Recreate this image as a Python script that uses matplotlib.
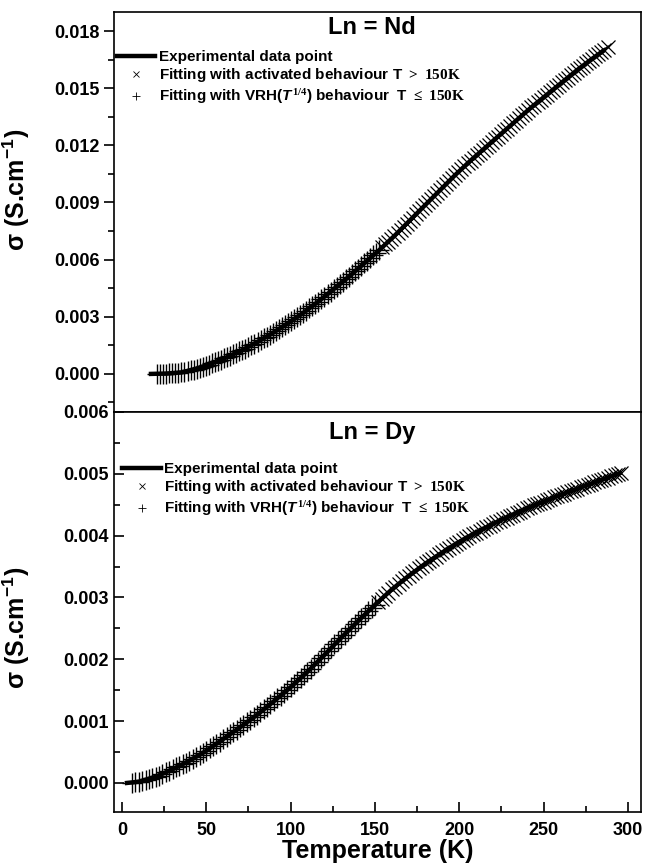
import numpy as np
import matplotlib
matplotlib.use("Agg")
import matplotlib.pyplot as plt
from matplotlib.lines import Line2D
from matplotlib.ticker import MultipleLocator, FormatStrFormatter

plt.rcParams['font.family'] = ['Liberation Sans', 'DejaVu Sans']
plt.rcParams['font.weight'] = 'bold'
plt.rcParams['mathtext.fontset'] = 'custom'
plt.rcParams['mathtext.rm'] = 'Liberation Serif'
plt.rcParams['mathtext.it'] = 'Liberation Sans:italic:bold'
plt.rcParams['mathtext.bf'] = 'Liberation Sans:bold'
plt.rcParams['axes.linewidth'] = 1.2

# ---- Ln = Nd (top panel, own temperature scale), sigma in mS/cm ----
nd_T_exp = [0, 10, 20, 30, 40, 50, 60, 70, 80, 90, 100, 110, 120, 130, 140, 150,
            160, 170, 180, 190, 200, 210, 220, 230, 240, 250, 260, 270, 280, 290, 297]
nd_sig_exp = [0.00, 0.02, 0.08, 0.28, 0.55, 0.88, 1.25, 1.68, 2.15, 2.65, 3.20, 3.80,
              4.45, 5.10, 5.80, 6.50, 7.25, 8.05, 8.85, 9.65, 10.45, 11.20, 11.90,
              12.60, 13.30, 14.00, 14.65, 15.30, 15.95, 16.55, 16.95]
# VRH fit, T = 4..150 K every 2 K
nd_sig_vrh = [0.00, 0.01, 0.01, 0.02,
              0.03, 0.04, 0.05, 0.06, 0.08,
              0.11, 0.15, 0.19, 0.23, 0.28,
              0.33, 0.38, 0.44, 0.49, 0.55,
              0.61, 0.68, 0.74, 0.81, 0.88,
              0.95, 1.03, 1.10, 1.18, 1.25,
              1.33, 1.42, 1.50, 1.59, 1.68,
              1.77, 1.87, 1.96, 2.06, 2.15,
              2.25, 2.35, 2.45, 2.55, 2.65,
              2.76, 2.87, 2.98, 3.09, 3.20,
              3.32, 3.44, 3.56, 3.68, 3.80,
              3.93, 4.06, 4.19, 4.32, 4.45,
              4.58, 4.71, 4.84, 4.97, 5.10,
              5.24, 5.38, 5.52, 5.66, 5.80,
              5.94, 6.08, 6.22, 6.36, 6.50]
# activated fit, T = 152..300 K every 2 K
nd_sig_act = [6.65, 6.80, 6.95, 7.10, 7.25,
              7.41, 7.57, 7.73, 7.89, 8.05,
              8.21, 8.37, 8.53, 8.69, 8.85,
              9.01, 9.17, 9.33, 9.49, 9.65,
              9.81, 9.97, 10.13, 10.29, 10.45,
              10.60, 10.75, 10.90, 11.05, 11.20,
              11.34, 11.48, 11.62, 11.76, 11.90,
              12.04, 12.18, 12.32, 12.46, 12.60,
              12.74, 12.88, 13.02, 13.16, 13.30,
              13.44, 13.58, 13.72, 13.86, 14.00,
              14.13, 14.26, 14.39, 14.52, 14.65,
              14.78, 14.91, 15.04, 15.17, 15.30,
              15.43, 15.56, 15.69, 15.82, 15.95,
              16.07, 16.19, 16.31, 16.43, 16.55,
              16.67, 16.79, 16.91, 17.03, 17.15]

# ---- Ln = Dy (bottom panel), sigma in mS/cm ----
dy_T_exp = [3, 10, 20, 30, 40, 50, 60, 70, 80, 90, 100, 110, 120, 130, 140, 150,
            160, 170, 180, 190, 200, 210, 220, 230, 240, 250, 260, 270, 280, 290, 295]
dy_sig_exp = [0.00, 0.02, 0.10, 0.22, 0.36, 0.52, 0.71, 0.90, 1.10, 1.32, 1.55, 1.80,
              2.07, 2.35, 2.62, 2.88, 3.13, 3.35, 3.55, 3.73, 3.90, 4.05, 4.19,
              4.32, 4.44, 4.55, 4.66, 4.76, 4.86, 4.96, 5.01]
# VRH fit, T = 6..150 K every 2 K
dy_sig_vrh = [0.00, 0.01, 0.02,
              0.03, 0.05, 0.06, 0.08, 0.10,
              0.12, 0.15, 0.17, 0.20, 0.22,
              0.25, 0.28, 0.30, 0.33, 0.36,
              0.39, 0.42, 0.45, 0.49, 0.52,
              0.56, 0.60, 0.63, 0.67, 0.71,
              0.75, 0.79, 0.82, 0.86, 0.90,
              0.94, 0.98, 1.02, 1.06, 1.10,
              1.14, 1.19, 1.23, 1.28, 1.32,
              1.37, 1.41, 1.46, 1.50, 1.55,
              1.60, 1.65, 1.70, 1.75, 1.80,
              1.85, 1.91, 1.96, 2.02, 2.07,
              2.13, 2.18, 2.24, 2.29, 2.35,
              2.40, 2.46, 2.51, 2.57, 2.62,
              2.67, 2.72, 2.78, 2.83, 2.88]
# activated fit, T = 152..296 K every 2 K
dy_sig_act = [2.93, 2.98, 3.03, 3.08, 3.13,
              3.17, 3.22, 3.26, 3.31, 3.35,
              3.39, 3.43, 3.47, 3.51, 3.55,
              3.59, 3.62, 3.66, 3.70, 3.73,
              3.77, 3.80, 3.83, 3.87, 3.90,
              3.93, 3.96, 3.99, 4.02, 4.05,
              4.08, 4.11, 4.14, 4.16, 4.19,
              4.22, 4.24, 4.27, 4.29, 4.32,
              4.34, 4.37, 4.39, 4.42, 4.44,
              4.46, 4.49, 4.51, 4.53, 4.55,
              4.58, 4.60, 4.62, 4.64, 4.66,
              4.68, 4.70, 4.72, 4.74, 4.76,
              4.78, 4.80, 4.82, 4.84, 4.86,
              4.88, 4.90, 4.92, 4.94, 4.96,
              4.98, 5.00, 5.02]

labels = ["Experimental data point",
          r"Fitting with activated behaviour T $\mathrm{{>}\ 150K}$",
          r"Fitting with VRH($T^{1/4}$) behaviour  T $\mathrm{{\leq}\ 150K}$"]


def ms(v):
    return np.asarray(v) * 1e-3


fig = plt.figure(figsize=(6.45, 8.65), dpi=100)
ax1 = fig.add_axes([114/645, 1-412/865, 527/645, 400/865])
ax2 = fig.add_axes([114/645, 1-812/865, 527/645, 400/865])

panels = [
    (ax1, "Ln = Nd", nd_T_exp, nd_sig_exp, 4, nd_sig_vrh, 152, nd_sig_act),
    (ax2, "Ln = Dy", dy_T_exp, dy_sig_exp, 6, dy_sig_vrh, 152, dy_sig_act),
]
for ax, name, T_exp, s_exp, t0v, s_vrh, t0a, s_act in panels:
    T_vrh = t0v + 2*np.arange(len(s_vrh))
    T_act = t0a + 2*np.arange(len(s_act))
    ax.plot(T_act, ms(s_act), ls='none', marker='x', ms=10, mew=0.9, color='k', zorder=2)
    ax.plot(T_vrh, ms(s_vrh), ls='none', marker='+', ms=14, mew=1.0, color='k', zorder=2)
    ax.plot(T_exp, ms(s_exp), color='k', lw=3.2, zorder=3)
    ax.text(0.49, 0.96 if ax is ax1 else 0.95, name, transform=ax.transAxes,
            ha='center', va='center', fontsize=17, fontweight='bold')
    ax.yaxis.set_major_formatter(FormatStrFormatter('%.3f'))
    ax.tick_params(labelsize=13)
    ax.set_ylabel(r"σ (S.cm$^{\mathbf{-1}}$)", fontsize=18, fontweight='bold')
    handles = [Line2D([], [], color='k', lw=3.2),
               Line2D([], [], ls='none', marker='x', ms=5, mew=0.6, color='k'),
               Line2D([], [], ls='none', marker='+', ms=6, mew=0.6, color='k')]
    x0 = 0.006 if ax is ax1 else 0.016
    y0 = 0.905 if ax is ax1 else 0.875
    ax.legend(handles, labels, loc='upper left', bbox_to_anchor=(x0, y0), frameon=False,
              fontsize=11, borderpad=0, borderaxespad=0, handlelength=2.5,
              handletextpad=0.25, labelspacing=0.15)

# top panel: its own x scale, no labels, outward ticks
ax1.set_xlim(-24.3, 322)
ax1.set_ylim(-0.002, 0.019)
ax1.xaxis.set_major_locator(MultipleLocator(50))
ax1.xaxis.set_minor_locator(MultipleLocator(25))
ax1.yaxis.set_major_locator(MultipleLocator(0.003))
ax1.yaxis.set_minor_locator(MultipleLocator(0.0015))
ax1.tick_params(which='both', direction='out', width=1.2)
ax1.tick_params(which='major', length=7)
ax1.tick_params(which='minor', length=4)
ax1.tick_params(axis='x', labelbottom=False)
ax1.yaxis.set_label_coords(-0.155, 0.555)

# bottom panel
ax2.set_xlim(-4.7, 307.7)
ax2.set_ylim(-0.00047, 0.006)
ax2.xaxis.set_major_locator(MultipleLocator(50))
ax2.xaxis.set_minor_locator(MultipleLocator(25))
ax2.yaxis.set_major_locator(MultipleLocator(0.001))
ax2.yaxis.set_minor_locator(MultipleLocator(0.0005))
ax2.tick_params(which='both', direction='in', width=1.2)
ax2.tick_params(which='major', length=7)
ax2.tick_params(which='minor', length=4)
ax2.tick_params(axis='x', pad=7)
ax2.set_xlabel("Temperature (K)", fontsize=18, fontweight='bold', labelpad=0)
ax2.yaxis.set_label_coords(-0.155, 0.46)

fig.savefig("out.png", dpi=100)
